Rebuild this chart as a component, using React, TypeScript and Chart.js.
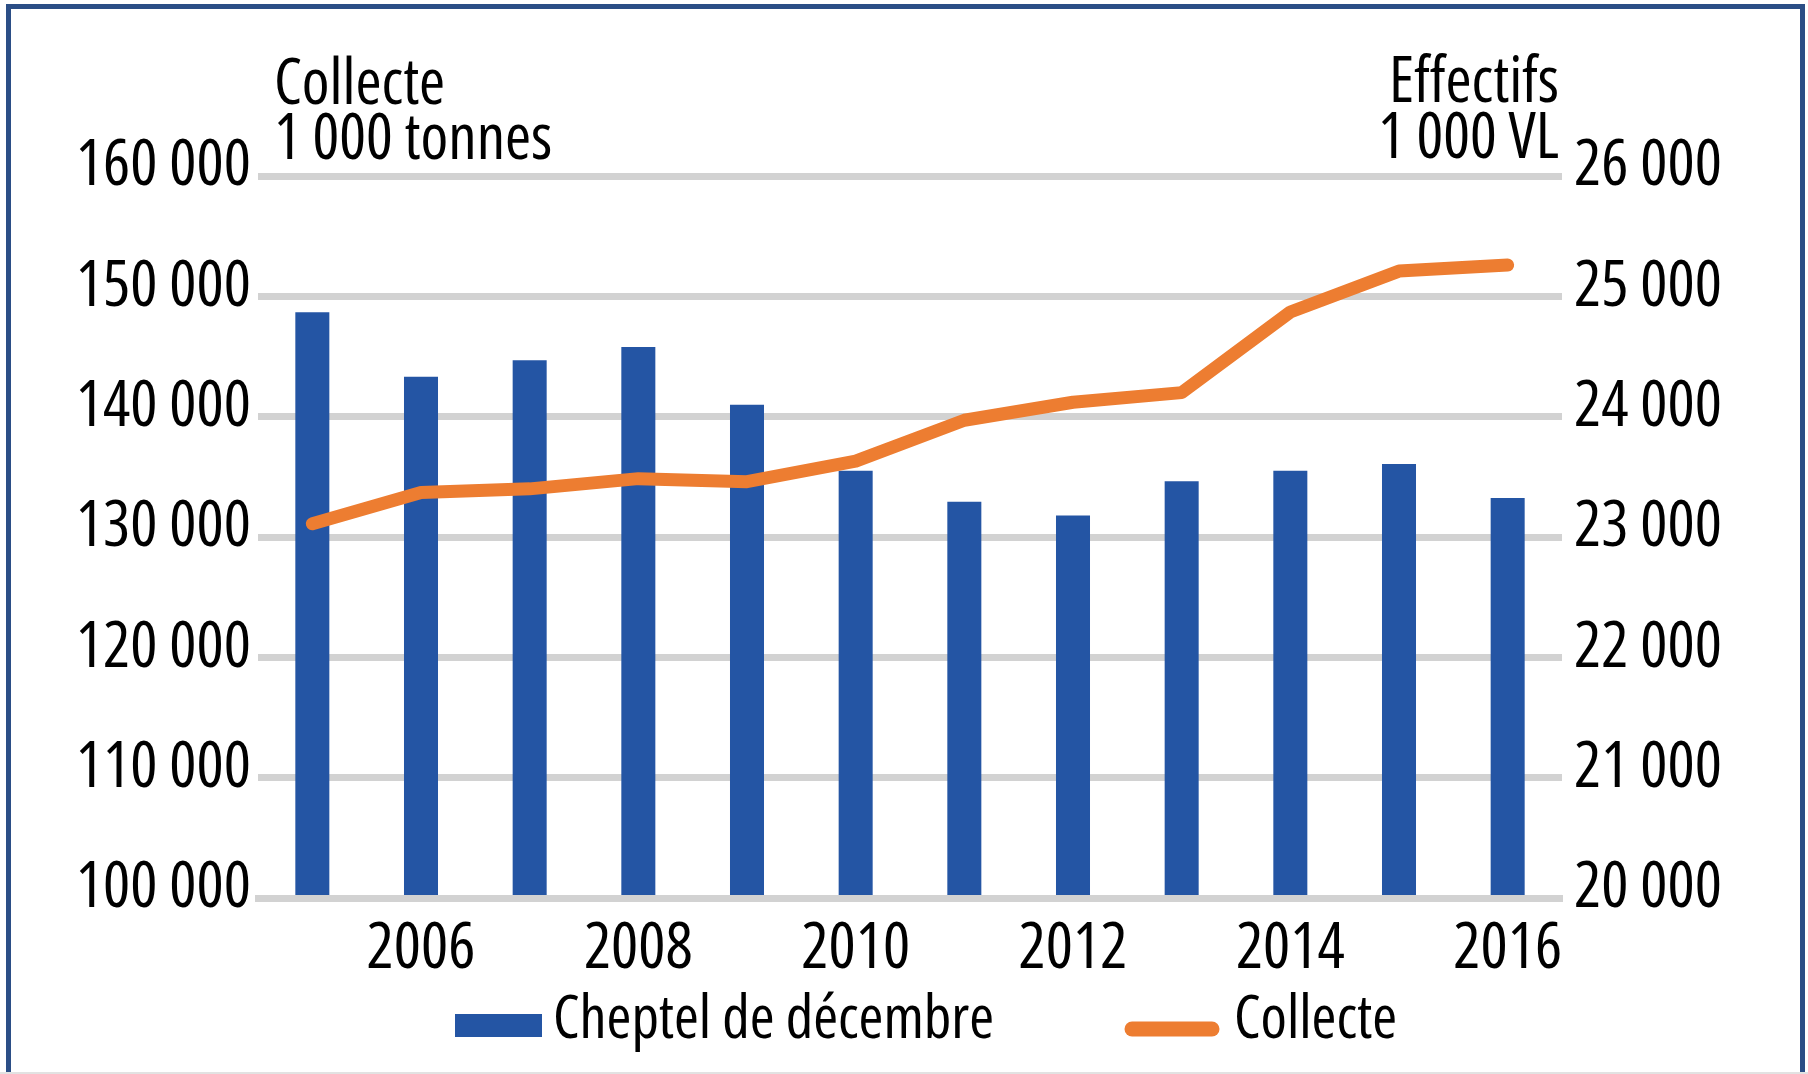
import React, { useEffect, useRef } from "react";
import { Chart, registerables } from "chart.js";

Chart.register(...registerables);

// ---------- data ----------
const years = ["2005", "2006", "2007", "2008", "2009", "2010", "2011", "2012", "2013", "2014", "2015", "2016"];
const shownYears = ["2006", "2008", "2010", "2012", "2014", "2016"];
// Cheptel de décembre, 1 000 VL (right axis)
const cheptel = [24868, 24331, 24469, 24579, 24099, 23551, 23293, 23179, 23463, 23551, 23607, 23325];
// Collecte, 1 000 tonnes (left axis)
const collecte = [131100, 133700, 134000, 134850, 134600, 136300, 139700, 141200, 142000, 148700, 152100, 152600];
const leftAxis = { min: 100000, max: 160000, step: 10000 };
const rightAxis = { min: 20000, max: 26000, step: 1000 };
const leftTitle = ["Collecte", "1 000 tonnes"];
const rightTitle = ["Effectifs", "1 000 VL"];
const seriesNames = ["Cheptel de décembre", "Collecte"];

// ---------- styles ----------
const W = 1808;
const H = 1074;
const FAMILY = "'Open Sans', 'Roboto Condensed', sans-serif";
const STRETCH = "condensed";
const TICK_FS = 64;
const TITLE_FS = 63;
const LEGEND_FS = 60;
const BLUE = "#2455a4";
const ORANGE = "#ed7d31";
const GRID = "#d2d2d2";
const FRAME = "#2b4e86";

const fmt = (v: number) => String(Math.round(v)).replace(/\B(?=(\d{3})+(?!\d))/g, " ");

const overlayPlugin = {
  id: "overlayText",
  afterDraw(chart: any) {
    const { ctx, chartArea } = chart;
    ctx.save();
    ctx.fillStyle = "#000";
    ctx.font = `${STRETCH} ${TITLE_FS}px ${FAMILY}`;
    ctx.textBaseline = "alphabetic";
    // axis titles
    ctx.textAlign = "left";
    ctx.fillText(leftTitle[0], chartArea.left + 16, chartArea.top - 72);
    ctx.fillText(leftTitle[1], chartArea.left + 16, chartArea.top - 17);
    ctx.textAlign = "right";
    ctx.fillText(rightTitle[0], chartArea.right - 3, chartArea.top - 74);
    ctx.fillText(rightTitle[1], chartArea.right - 3, chartArea.top - 18);

    // legend
    ctx.font = `${STRETCH} ${LEGEND_FS}px ${FAMILY}`;
    const ds = chart.data.datasets;
    const baseY = 1038;
    ctx.textAlign = "left";
    ctx.fillStyle = ds[0].backgroundColor;
    ctx.fillRect(455, 1014, 87, 23);
    ctx.fillStyle = "#000";
    ctx.fillText(ds[0].label, 553, baseY);

    ctx.strokeStyle = ds[1].borderColor;
    ctx.lineWidth = 15;
    ctx.lineCap = "round";
    ctx.beginPath();
    ctx.moveTo(1132, 1029);
    ctx.lineTo(1212, 1029);
    ctx.stroke();
    ctx.fillStyle = "#000";
    ctx.fillText(ds[1].label, 1234, baseY);
    ctx.restore();
  },
};

export default function App() {
  const ref = useRef<HTMLCanvasElement | null>(null);

  useEffect(() => {
    if (!ref.current) return;
    const font = { family: FAMILY, size: TICK_FS, weight: STRETCH };
    const chart = new Chart(ref.current, {
      type: "bar",
      data: {
        labels: years,
        datasets: [
          {
            type: "bar",
            label: seriesNames[0],
            data: cheptel,
            yAxisID: "y1",
            backgroundColor: BLUE,
            borderWidth: 0,
            barPercentage: 0.313,
            categoryPercentage: 1,
            order: 2,
          },
          {
            type: "line",
            label: seriesNames[1],
            data: collecte,
            yAxisID: "y",
            borderColor: ORANGE,
            backgroundColor: ORANGE,
            borderWidth: 13,
            borderCapStyle: "round",
            borderJoinStyle: "round",
            pointRadius: 0,
            tension: 0,
            order: 1,
          },
        ] as any,
      },
      options: {
        animation: false,
        responsive: false,
        maintainAspectRatio: false,
        layout: { padding: { top: 176, bottom: 0, left: 0, right: 0 } },
        plugins: { legend: { display: false }, tooltip: { enabled: false } },
        scales: {
          x: {
            grid: { display: false, drawTicks: false },
            border: { display: true, color: GRID, width: 7, z: 1 } as any,
            ticks: {
              font,
              color: "#000",
              padding: 13,
              autoSkip: false,
              maxRotation: 0,
              callback: function (this: any, v: any) {
                const l = this.getLabelForValue(v);
                return shownYears.includes(l) ? l : "";
              },
            },
            afterFit: (s: any) => {
              s.height = H - 898;
            },
          },
          y: {
            position: "left",
            min: leftAxis.min,
            max: leftAxis.max,
            ticks: {
              stepSize: leftAxis.step,
              padding: 7,
              labelOffset: -9,
              font,
              color: "#000",
              callback: (v: any) => fmt(Number(v)),
            },
            grid: { color: GRID, lineWidth: 7, drawTicks: false },
            border: { display: false },
            afterFit: (s: any) => {
              s.width = 258;
            },
          },
          y1: {
            position: "right",
            min: rightAxis.min,
            max: rightAxis.max,
            ticks: {
              stepSize: rightAxis.step,
              padding: 12,
              labelOffset: -9,
              font,
              color: "#000",
              callback: (v: any) => fmt(Number(v)),
            },
            grid: { display: false, drawTicks: false },
            border: { display: false },
            afterFit: (s: any) => {
              s.width = W - 1562;
            },
          },
        },
      } as any,
      plugins: [overlayPlugin],
    });
    return () => chart.destroy();
  }, []);

  return (
    <div style={{ position: "absolute", left: 0, top: 0, width: W, height: H, overflow: "hidden", background: "#fff" }}>
      <div
        style={{
          position: "absolute",
          left: 6,
          top: 4,
          width: 1805 - 6,
          height: 1120,
          border: `5px solid ${FRAME}`,
          boxSizing: "border-box",
        }}
      />
      <div style={{ position: "absolute", left: 0, top: H - 2, width: W, height: 2, background: "#e2e2e2" }} />
      <canvas ref={ref} width={W} height={H} style={{ position: "absolute", left: 0, top: 0, display: "block" }} />
    </div>
  );
}
